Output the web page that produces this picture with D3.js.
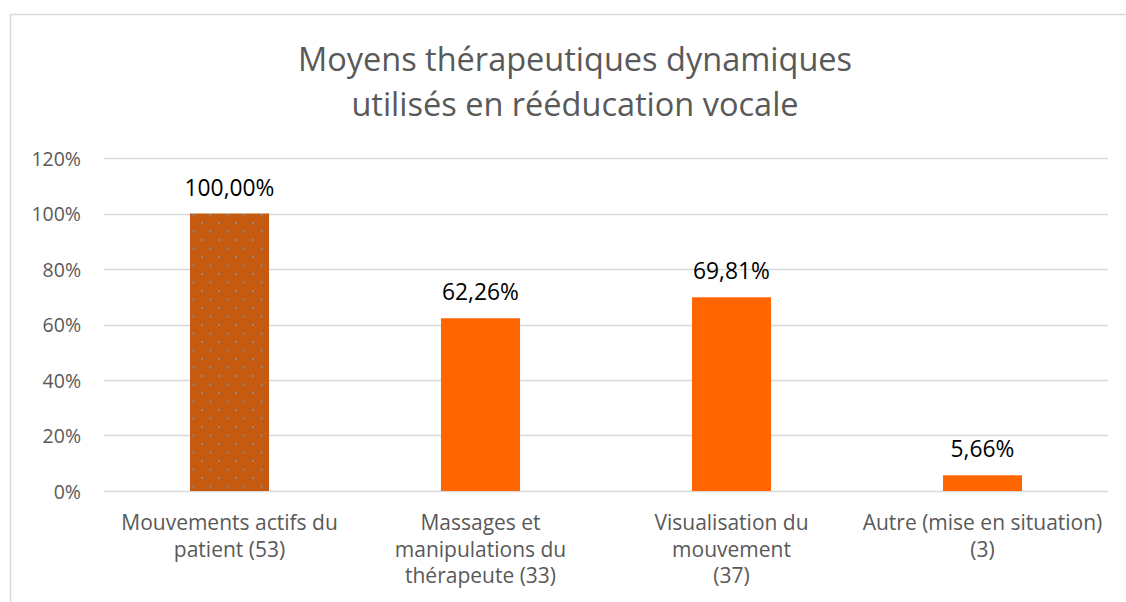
<!DOCTYPE html>
<html lang="fr">
<head>
<meta charset="UTF-8">
<title>Moyens thérapeutiques dynamiques</title>
<script src="https://cdn.jsdelivr.net/npm/d3@7"></script>
<style>
  body { margin: 0; background: #fff; }
  text { font-family: "Open Sans", sans-serif; }
</style>
</head>
<body>
<div id="chart"></div>
<script>
const categories = [
  ["Mouvements actifs du", "patient (53)"],
  ["Massages et", "manipulations du", "thérapeute (33)"],
  ["Visualisation du", "mouvement", "(37)"],
  ["Autre (mise en situation)", "(3)"]
]
const values = [1.0, 0.6226, 0.6981, 0.0566]
const valueLabels = ["100,00%", "62,26%", "69,81%", "5,66%"]
const yTicks = [0, 0.2, 0.4, 0.6, 0.8, 1.0, 1.2]
const titleLines = ["Moyens thérapeutiques dynamiques", "utilisés en rééducation vocale"]

const width = 1126
const height = 602
const plotLeft = 104, plotRight = 1108, plotTop = 158, plotBottom = 491

const svg = d3.select("#chart").append("svg")
    .attr("width", width)
    .attr("height", height)

// dotted pattern for the first bar
const defs = svg.append("defs")
const pat = defs.append("pattern")
    .attr("id", "dots")
    .attr("patternUnits", "userSpaceOnUse")
    .attr("width", 17)
    .attr("height", 17)
pat.append("rect").attr("width", 17).attr("height", 17).attr("fill", "#c55a11")
pat.append("rect").attr("x", 14).attr("y", 1).attr("width", 2).attr("height", 2).attr("fill", "#8a8a8a")
pat.append("rect").attr("x", 5.5).attr("y", 9.5).attr("width", 2).attr("height", 2).attr("fill", "#8a8a8a")

// chart border
svg.append("rect")
    .attr("x", 10.5).attr("y", 14.5)
    .attr("width", 1130).attr("height", 600)
    .attr("fill", "none")
    .attr("stroke", "#d9d9d9")
    .attr("stroke-width", 1.5)

const x = d3.scaleBand()
    .domain(d3.range(categories.length))
    .range([plotLeft, plotRight])
    .paddingInner(0.685)
    .paddingOuter(0.3425)

const y = d3.scaleLinear()
    .domain([0, 1.2])
    .range([plotBottom, plotTop])

// gridlines
svg.append("g")
    .selectAll("line")
    .data(yTicks)
    .enter()
    .append("line")
    .attr("x1", plotLeft).attr("x2", plotRight)
    .attr("y1", d => Math.round(y(d)) + 0.5)
    .attr("y2", d => Math.round(y(d)) + 0.5)
    .attr("stroke", "#d9d9d9")
    .attr("stroke-width", 1.3)

// y tick labels
svg.append("g")
    .selectAll("text")
    .data(yTicks)
    .enter()
    .append("text")
    .attr("x", 81)
    .attr("y", d => y(d) + 1)
    .attr("dy", "0.35em")
    .attr("text-anchor", "end")
    .attr("fill", "#595959")
    .attr("font-size", 19.5)
    .text(d => Math.round(d * 100) + "%")

// bars
svg.append("g")
    .selectAll("rect")
    .data(values)
    .enter()
    .append("rect")
    .attr("x", (d, i) => x(i))
    .attr("width", x.bandwidth())
    .attr("y", d => y(d))
    .attr("height", d => plotBottom - y(d))
    .attr("fill", (d, i) => i === 0 ? "url(#dots)" : "#ff6600")

// value labels
svg.append("g")
    .selectAll("text")
    .data(values)
    .enter()
    .append("text")
    .attr("x", (d, i) => x(i) + x.bandwidth() / 2)
    .attr("y", d => y(d) - 18)
    .attr("text-anchor", "middle")
    .attr("fill", "#000")
    .attr("font-size", 22.8)
    .text((d, i) => valueLabels[i])

// category labels
const cat = svg.append("g")
    .selectAll("text")
    .data(categories)
    .enter()
    .append("text")
    .attr("text-anchor", "middle")
    .attr("fill", "#595959")
    .attr("font-size", 21)
    .attr("transform", (d, i) => `translate(${x(i) + x.bandwidth() / 2},530)`)
cat.selectAll("tspan")
    .data(d => d)
    .enter()
    .append("tspan")
    .attr("x", 0)
    .attr("y", (d, i) => i * 26.5)
    .text(d => d)

// title
svg.append("text")
    .attr("x", 575)
    .attr("y", 71)
    .attr("text-anchor", "middle")
    .attr("fill", "#595959")
    .attr("font-size", 32.5)
    .selectAll("tspan")
    .data(titleLines)
    .enter()
    .append("tspan")
    .attr("x", 575)
    .attr("dy", (d, i) => i === 0 ? 0 : 45)
    .text(d => d)
</script>
</body>
</html>
